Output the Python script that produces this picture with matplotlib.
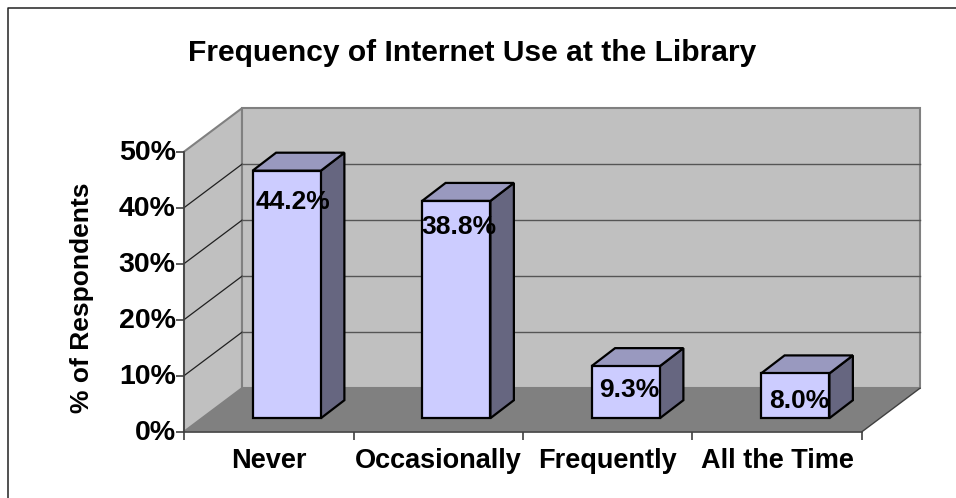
import matplotlib
matplotlib.use('Agg')
import matplotlib.pyplot as plt
from matplotlib.lines import Line2D
from matplotlib.patches import Polygon
from matplotlib.transforms import ScaledTranslation

plt.rcParams['font.family'] = ['Liberation Sans', 'DejaVu Sans']
plt.rcParams['font.weight'] = 'bold'

# Data
categories = ['Never', 'Occasionally', 'Frequently', 'All the Time']
values = [44.2, 38.8, 9.3, 8.0]
value_labels = ['44.2%', '38.8%', '9.3%', '8.0%']
y_ticks = [0, 10, 20, 30, 40, 50]
y_tick_labels = ['0%', '10%', '20%', '30%', '40%', '50%']

# Hand placement of the value labels relative to each bar top
label_shift_x = [0.037, 0.013, 0.02, 0.025]
label_drop = [5.65, 4.6, 4.2, 4.9]

W, H = 956, 498
fig = plt.figure(figsize=(W / 100, H / 100), dpi=100, facecolor='white')

# Chart frame, only top and left edges are inside the picture
frame_x = 7.5 / W
frame_y = 1 - 8 / H
fig.add_artist(Line2D([frame_x, frame_x, 1], [0, frame_y, frame_y], transform=fig.transFigure,
                      color='#222222', linewidth=1.1))

# Axes sit on the front plane of the 3D box
left, right, top, bottom = 184, 862, 151.7, 431.7
ax = fig.add_axes([left / W, 1 - bottom / H, (right - left) / W, (bottom - top) / H])
ax.set_xlim(0, 4)
ax.set_ylim(0, 50)
ax.patch.set_visible(False)
for name in ['top', 'right']:
    ax.spines[name].set_visible(False)
for name in ['left', 'bottom']:
    ax.spines[name].set_color('#404040')
    ax.spines[name].set_linewidth(1.2)

# Depth of the box in data units
dx = 58 / ((right - left) / 4)
dy = 43.5 / ((bottom - top) / 50)

WALL = '#c0c0c0'
FLOOR = '#808080'
EDGE = '#808080'


def poly(points, **kw):
    ax.add_patch(Polygon(points, closed=True, clip_on=False, **kw))


# Walls and floor
poly([(0, 0), (dx, dy), (dx, 50 + dy), (0, 50)], facecolor=WALL, edgecolor=EDGE, linewidth=1.5, zorder=1)
poly([(dx, dy), (4 + dx, dy), (4 + dx, 50 + dy), (dx, 50 + dy)], facecolor=WALL, edgecolor=EDGE, linewidth=1.5, zorder=1)
poly([(0, 0), (4, 0), (4 + dx, dy), (dx, dy)], facecolor=FLOOR, edgecolor='none', zorder=2)
ax.plot([4, 4 + dx], [0, dy], color='#404040', linewidth=1, clip_on=False, zorder=2)

# Gridlines, the top one is just the wall edge
for t in y_ticks[1:-1]:
    ax.plot([0, dx], [t, t + dy], color='#202020', linewidth=0.9, clip_on=False, zorder=2)
    ax.plot([dx, 4 + dx], [t + dy, t + dy], color='#555555', linewidth=1, clip_on=False, zorder=2)

# Bars
bar_w = 68.3 / ((right - left) / 4)
shift = 0.31
bdx = 23.5 / ((right - left) / 4)
bdy = 18 / ((bottom - top) / 50)
x0 = shift * dx
y0 = shift * dy
for i, v in enumerate(values):
    xl = i + 0.5 - bar_w / 2 + x0
    xr = xl + bar_w
    yt = y0 + v
    style = dict(edgecolor='black', linewidth=1.6, joinstyle='miter', zorder=3)
    poly([(xr, y0), (xr + bdx, y0 + bdy), (xr + bdx, yt + bdy), (xr, yt)], facecolor='#666680', **style)
    poly([(xl, yt), (xr, yt), (xr + bdx, yt + bdy), (xl + bdx, yt + bdy)], facecolor='#9999bf', **style)
    poly([(xl, y0), (xr, y0), (xr, yt), (xl, yt)], facecolor='#ccccff', **style)
    ax.text((xl + xr) / 2 + label_shift_x[i], yt - label_drop[i], value_labels[i], ha='center', va='center',
            fontsize=19, fontweight='bold', color='black', zorder=4, clip_on=False)

# Axis ticks and labels
ax.set_yticks(y_ticks)
ax.set_yticklabels(y_tick_labels, fontsize=20.5, fontweight='bold')
ax.set_xticks(range(5))
ax.set_xticklabels([])
ax.set_xticks([i + 0.5 for i in range(4)], minor=True)
ax.set_xticklabels(categories, minor=True, fontsize=19.5, fontweight='bold')
ax.tick_params(axis='x', which='major', length=6, color='#404040', width=1.2)
ax.tick_params(axis='x', which='minor', length=0, pad=12)
ax.tick_params(axis='y', length=6, color='#404040', width=1.2, pad=0)
ax.set_ylabel('% of Respondents', fontsize=19, fontweight='bold', labelpad=17.5)
ax.yaxis.label.set_y(0.479)

# Tick labels sit slightly above their ticks in the original
nudge = ScaledTranslation(0, 2 / 100, fig.dpi_scale_trans)
for lab in ax.get_yticklabels():
    lab.set_transform(lab.get_transform() + nudge)

fig.text(472 / W, 1 - 53 / H, 'Frequency of Internet Use at the Library', ha='center', va='center',
         fontsize=21.6, fontweight='bold')

fig.savefig('out.png', dpi=100)
